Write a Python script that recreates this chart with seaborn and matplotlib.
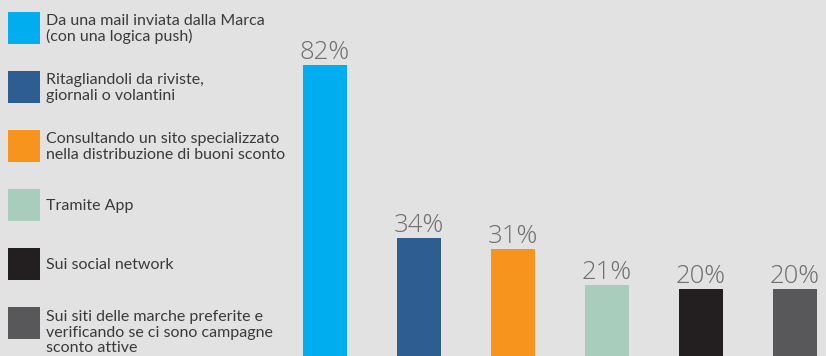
import matplotlib
matplotlib.use("Agg")
import matplotlib.pyplot as plt
import seaborn as sns
import pandas as pd
from matplotlib.patches import Rectangle

categories = [
    "Da una mail inviata dalla Marca\n(con una logica push)",
    "Ritagliandoli da riviste,\ngiornali o volantini",
    "Consultando un sito specializzato\nnella distribuzione di buoni sconto",
    "Tramite App",
    "Sui social network",
    "Sui siti delle marche preferite e\nverificando se ci sono campagne\nsconto attive",
]
values = [82, 34, 31, 21, 20, 20]
value_labels = ["82%", "34%", "31%", "21%", "20%", "20%"]
colors = ["#00AEEF", "#2E5D92", "#F7941D", "#A9CDBC", "#231F20", "#58585A"]

BG = "#E2E2E2"
W, H = 826, 356

sns.set_theme(style="white")
plt.rcParams['font.family'] = ['Lato', 'DejaVu Sans']

fig = plt.figure(figsize=(W / 100, H / 100), dpi=100, facecolor=BG)
ax_left = 278
ax = fig.add_axes([ax_left / W, 0, 1 - ax_left / W, 1])
df = pd.DataFrame({"cat": categories, "val": values})
sns.barplot(data=df, x="cat", y="val", hue="cat", order=categories,
            hue_order=categories, palette=colors, saturation=1,
            width=0.46, legend=False, ax=ax, linewidth=0, edgecolor="none")

px_per_cat = 94.0
ax.set_xlim(-0.5, -0.5 + (W - ax_left) / px_per_cat)
zero_px = 361.0
px_per_unit = 3.61
ax.set_ylim((zero_px - H) / px_per_unit, zero_px / px_per_unit)
ax.axis("off")

for i, (v, lab) in enumerate(zip(values, value_labels)):
    ax.annotate(lab, (i, v), xytext=(0, 6), textcoords="offset pixels",
                ha="center", va="baseline", fontsize=18.5, color="#6E6E6E",
                family=["Open Sans", "DejaVu Sans"], fontweight="light")

# legend drawn manually
def fy(py):
    return 1 - py / H

sq = 32
top0 = 12
step = 59
for k, (cat, col) in enumerate(zip(categories, colors)):
    top = top0 + k * step
    fig.patches.append(Rectangle((8 / W, fy(top + sq)), sq / W, sq / H,
                                 transform=fig.transFigure, facecolor=col,
                                 edgecolor="none"))
    nlines = cat.count("\n") + 1
    if nlines <= 2:
        fig.text(46 / W, fy(top + sq / 2 + 1), cat, ha="left", va="center",
                 fontsize=11.5, color="#3A3A3A", linespacing=1.15)
    else:
        fig.text(46 / W, fy(top + 3), cat, ha="left", va="top",
                 fontsize=11.5, color="#3A3A3A", linespacing=1.15)

fig.savefig("out.png", dpi=100, facecolor=BG)
